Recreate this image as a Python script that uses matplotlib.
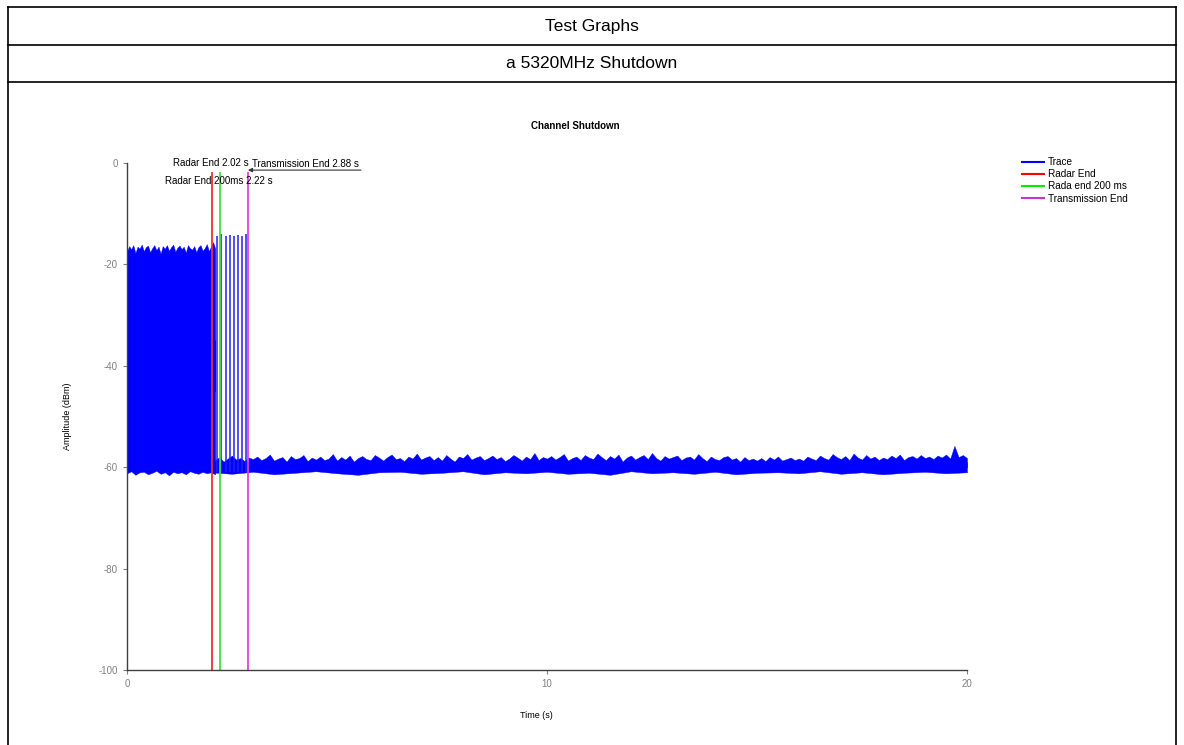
import matplotlib
matplotlib.use("Agg")
import matplotlib.pyplot as plt
from matplotlib.lines import Line2D
import numpy as np

plt.rcParams['font.family'] = ['Liberation Sans', 'DejaVu Sans']
plt.rcParams['axes.unicode_minus'] = False

# ---------------- data ----------------
header_title = "Test Graphs"
header_sub = "a 5320MHz Shutdown"
chart_title = "Channel Shutdown"
x_label = "Time (s)"
y_label = "Amplitude (dBm)"
x_ticks = [0, 10, 20]
y_ticks = [0, -20, -40, -60, -80, -100]

radar_end = 2.02
radar_end_200 = 2.22
transmission_end = 2.88

# dense burst region (0 .. 2.1 s), upper envelope every 0.05 s
dense_top_t0, dense_top_dt = 0.0, 0.05
dense_top = [-17.5, -16.4, -17.0, -16.2, -17.8, -16.5, -16.9, -16.1, -17.4, -16.6,
             -16.3, -17.6, -16.8, -16.2, -17.2, -16.5, -17.9, -16.4, -16.9, -16.2,
             -17.3, -16.6, -16.1, -17.5, -16.7, -16.3, -17.0, -16.5, -17.7, -16.2,
             -16.8, -17.1, -16.4, -17.6, -16.6, -16.2, -17.3, -16.8, -16.0, -17.4,
             -16.5, -15.6, -16.9]
# lower envelope every 0.1 s
dense_bot_t0, dense_bot_dt = 0.0, 0.1
dense_bot = [-61.2, -60.8, -61.5, -61.0, -60.9, -61.4, -61.1, -60.7, -61.3, -61.0,
             -61.6, -60.9, -61.2, -61.0, -61.4, -60.8, -61.1, -61.3, -60.9, -61.2,
             -61.0, -61.4]

# transmission pulses after radar end
pulse_times = [2.15, 2.24, 2.36, 2.45, 2.55, 2.64, 2.74, 2.83]
pulse_top = [-14.3, -14.1, -14.3, -14.2, -14.4, -14.2, -14.3, -14.1]
pulse_bottom = -61.0

# noise floor (2.1 .. 20.0 s), upper envelope every 0.1 s
floor_top_t0, floor_top_dt = 2.1, 0.1
floor_top = [-58.6, -58.0, -58.9, -58.3, -57.7, -58.5, -58.2, -58.8, -58.1, -58.4,
             -57.9, -58.6, -58.2, -57.5, -58.7, -58.3, -58.0, -58.9, -57.8, -58.4,
             -58.2, -57.6, -58.8, -58.1, -58.5, -57.9, -58.6, -58.3, -57.4, -58.7,
             -58.0, -58.5, -57.7, -58.9, -58.2, -57.8, -58.4, -58.6, -57.6, -58.1,
             -58.7, -58.0, -57.5, -58.4, -58.2, -58.8, -57.9, -58.3, -57.3, -58.5,
             -58.1, -57.8, -58.6, -58.0, -58.7, -57.6, -58.3, -58.9, -57.9, -58.2,
             -57.4, -58.5, -58.1, -57.8, -58.6, -58.2, -57.7, -58.4, -58.0, -58.8,
             -58.3, -57.6, -58.1, -58.7, -57.9, -58.4, -57.2, -58.6, -58.0, -58.3,
             -57.8, -58.5, -58.0, -57.4, -58.7, -58.2, -57.9, -58.6, -57.6, -58.1,
             -58.4, -57.3, -58.0, -58.6, -57.8, -58.3, -57.5, -58.9, -58.1, -57.7,
             -58.5, -58.0, -57.6, -58.4, -57.2, -58.2, -58.7, -57.8, -58.3, -58.0,
             -57.7, -58.6, -58.1, -57.9, -58.5, -57.4, -58.2, -58.8, -57.9, -58.4,
             -58.6, -58.0, -57.8, -58.5, -58.2, -58.9, -58.0, -58.6, -58.3, -58.7,
             -58.2, -58.8, -58.0, -58.5, -57.9, -58.7, -58.4, -58.1, -58.6, -58.3,
             -58.7, -57.9, -58.3, -58.6, -57.7, -58.2, -58.5, -57.4, -58.0, -58.4,
             -57.8, -58.6, -57.3, -58.1, -58.5, -57.6, -58.3, -57.9, -58.6, -58.1,
             -58.4, -57.7, -58.2, -57.5, -58.6, -58.0, -57.8, -58.3, -57.6, -58.2,
             -57.9, -58.4, -57.7, -58.1, -57.5, -58.3, -55.8, -58.0, -57.6, -58.2]
# noise floor lower envelope every 0.5 s
floor_bot_t0, floor_bot_dt = 2.0, 0.5
floor_bot = [-61.0, -61.3, -60.9, -61.4, -61.1, -60.8, -61.2, -61.5, -61.0, -60.9,
             -61.3, -61.1, -60.8, -61.4, -61.0, -61.2, -60.9, -61.3, -61.1, -61.5,
             -60.8, -61.2, -61.0, -61.3, -60.9, -61.4, -61.1, -61.0, -61.2, -60.8,
             -61.3, -61.0, -61.4, -61.1, -60.9, -61.2, -61.0]

legend_labels = ["Trace", "Radar End", "Rada end 200 ms", "Transmission End"]
c_trace = "#0000FF"
c_red = "#EE2E2E"
c_green = "#3EE03E"
c_mag = "#E040E0"

# ---------------- figure ----------------
W, H = 1184, 745
fig = plt.figure(figsize=(W / 100, H / 100), dpi=100)


def fx(px):
    return px / W


def fy(py):
    return 1 - py / H


# table frame
tbl = dict(color="black", linewidth=1.2, transform=fig.transFigure)
fig.add_artist(Line2D([fx(8), fx(1176)], [fy(7), fy(7)], **tbl))
fig.add_artist(Line2D([fx(8), fx(1176)], [fy(45), fy(45)], **tbl))
fig.add_artist(Line2D([fx(8), fx(1176)], [fy(82), fy(82)], **tbl))
fig.add_artist(Line2D([fx(8), fx(8)], [fy(7), 0], **tbl))
fig.add_artist(Line2D([fx(1176), fx(1176)], [fy(7), 0], **tbl))
fig.text(fx(592), fy(27), header_title, ha="center", va="center", fontsize=12.5)
fig.text(fx(592), fy(64), header_sub, ha="center", va="center", fontsize=12.5)

fig.text(fx(575), fy(126), chart_title, ha="center", va="center",
         fontsize=7, fontweight="bold")

ax = fig.add_axes([fx(127), fy(670), fx(967) - fx(127), fy(163) - fy(670)])
ax.set_xlim(0, 20)
ax.set_ylim(-100, 0)

# trace
t_dt = dense_top_t0 + dense_top_dt * np.arange(len(dense_top))
t_db = dense_bot_t0 + dense_bot_dt * np.arange(len(dense_bot))
t_ft = floor_top_t0 + floor_top_dt * np.arange(len(floor_top))
t_fb = floor_bot_t0 + floor_bot_dt * np.arange(len(floor_bot))

fill_kw = dict(color=c_trace, linewidth=0.3, edgecolor=c_trace)
ax.fill_between(t_dt, dense_top, -45, **fill_kw)
ax.fill_between(t_db, -35, dense_bot, **fill_kw)
ax.fill_between(t_ft, floor_top, -60, **fill_kw)
ax.fill_between(t_fb, -59.0, floor_bot, **fill_kw)
ax.vlines(pulse_times, pulse_bottom, pulse_top, color="#2020F0", linewidth=1.1)

# markers
ax.plot([radar_end, radar_end], [-100, -2], color=c_red, linewidth=1.3)
ax.plot([radar_end_200, radar_end_200], [-100, -2], color=c_green, linewidth=1.3)
ax.plot([transmission_end, transmission_end], [-100, -2], color=c_mag, linewidth=1.3)

afs = 7
ax.text(radar_end - 0.02, 0.0, f"Radar End {radar_end:.2f} s", ha="center", va="center",
        fontsize=afs, clip_on=False)
ax.text(radar_end_200 - 0.03, -3.6, f"Radar End 200ms {radar_end_200:.2f} s",
        ha="center", va="center", fontsize=afs, clip_on=False)
ax.text(transmission_end + 0.1, -0.2, f"Transmission End {transmission_end:.2f} s",
        ha="left", va="center", fontsize=afs, clip_on=False)
ax.annotate("", xy=(transmission_end, -1.4), xytext=(5.57, -1.4),
            arrowprops=dict(arrowstyle="-|>", color="#333333", lw=0.8,
                            mutation_scale=6, shrinkA=0, shrinkB=0))

# axes styling
for s in ["top", "right"]:
    ax.spines[s].set_visible(False)
for s in ["left", "bottom"]:
    ax.spines[s].set_color("#404040")
    ax.spines[s].set_linewidth(1.0)
ax.set_xticks(x_ticks)
ax.set_yticks(y_ticks)
ax.tick_params(axis="both", labelsize=7, labelcolor="#808080", color="#808080",
               length=3, width=0.8)
ax.set_xlabel(x_label, fontsize=6.5)
ax.set_ylabel(y_label, fontsize=6.5)
ax.xaxis.set_label_coords(0.487, -0.081)
ax.yaxis.set_label_coords(-0.0655, 0.5)

handles = [Line2D([], [], color=c, linewidth=1.5) for c in [c_trace, "#FF0000", "#00EE00", "#CC33CC"]]
fig.legend(handles, legend_labels, loc="upper left",
           bbox_to_anchor=(fx(1022), fy(157)), frameon=False, fontsize=7.2,
           handlelength=2.2, handletextpad=0.35, labelspacing=0.22, borderpad=0,
           borderaxespad=0)

fig.savefig("out.png", dpi=100)
